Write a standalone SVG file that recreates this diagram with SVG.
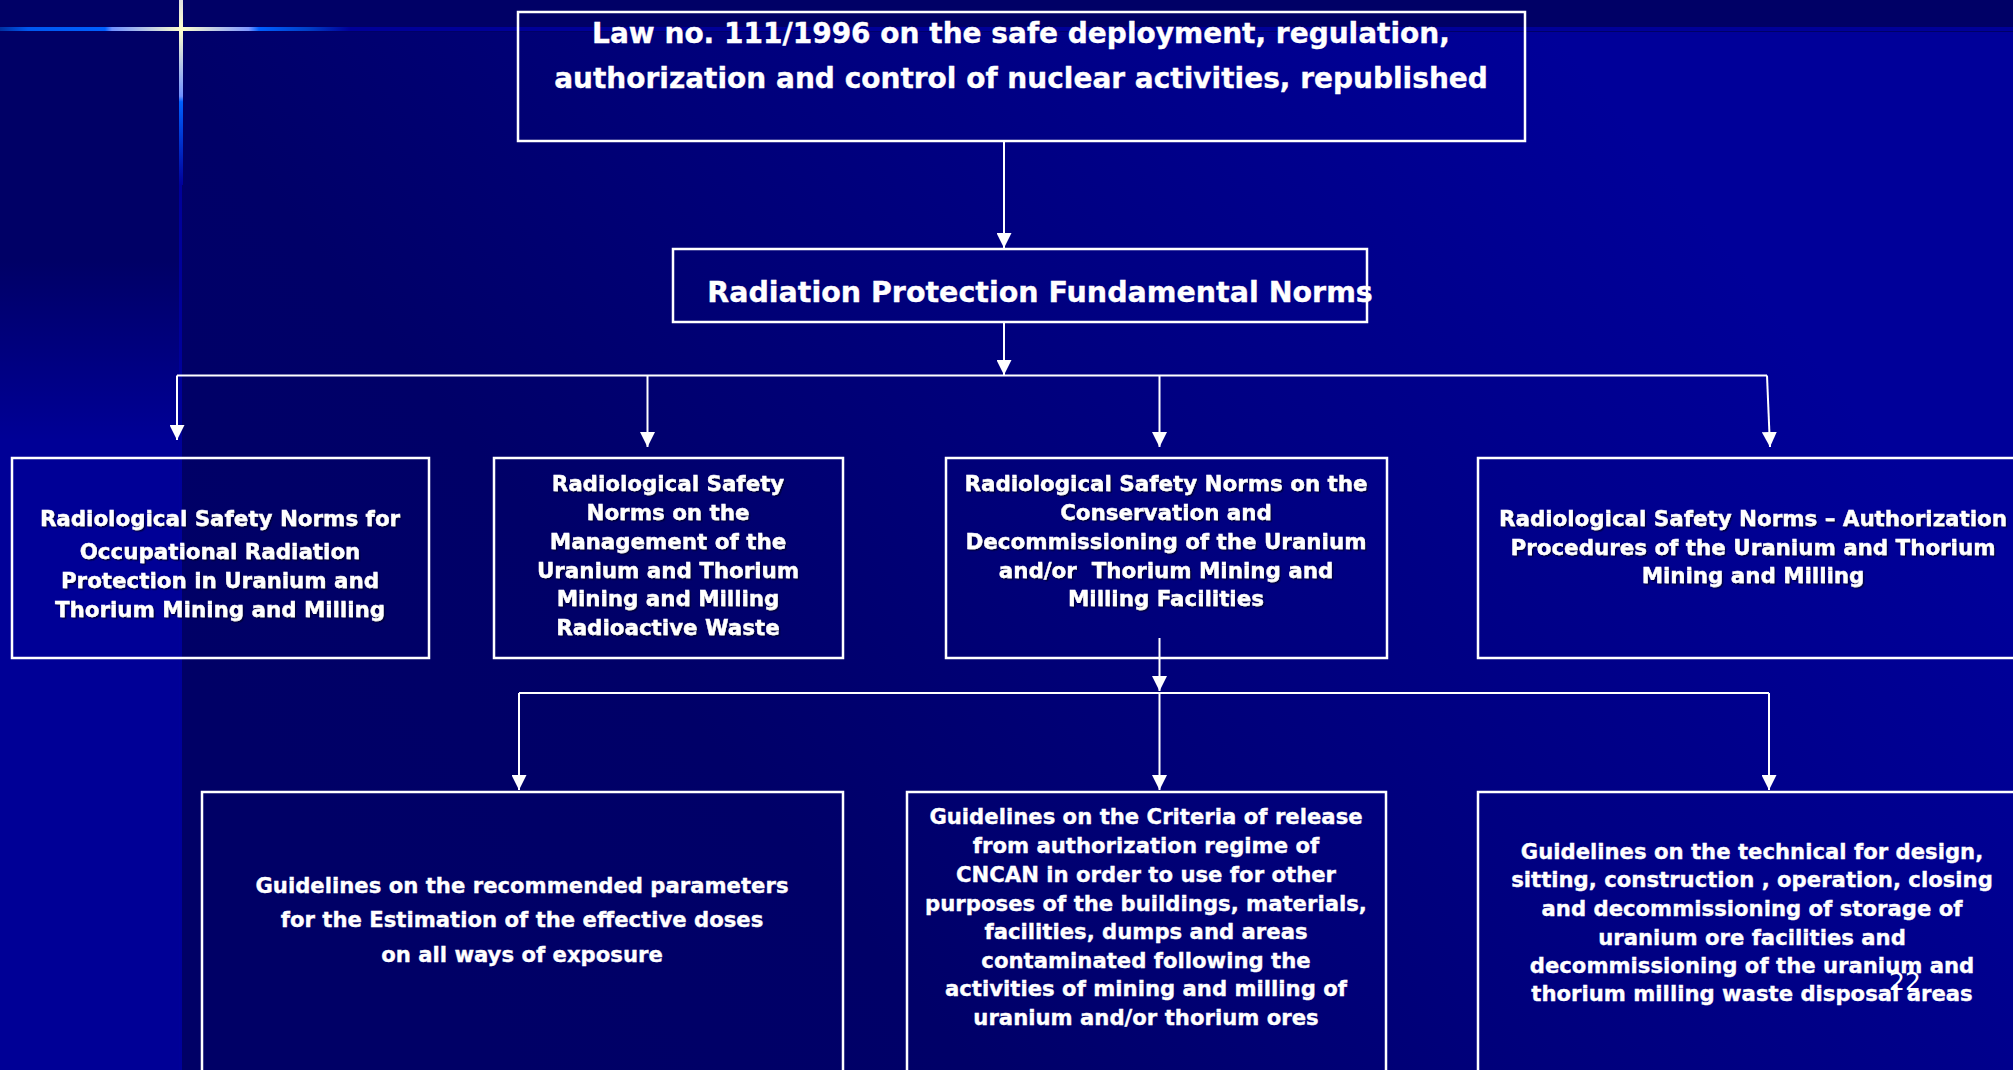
<svg xmlns="http://www.w3.org/2000/svg" width="2013" height="1070" viewBox="0 0 2013 1070">
<style>
.box{fill:none;stroke:#FFFFFF;stroke-width:2.5}
.t{font-family:"DejaVu Sans","Verdana","Noto Sans",sans-serif;font-weight:bold;fill:#FFFFFF;stroke:#FFFFFF;stroke-width:0.35;text-anchor:middle}
.t1{font-size:28px}
.t2{font-size:28.5px}
.t3{font-size:21.4px;filter:url(#sh)}
.t4{font-size:21.2px}
.c{fill:none;stroke:#FFFFFF;stroke-width:2}
.pg{font-family:"DejaVu Sans",sans-serif;font-size:25px;fill:#FFFFFF}
</style>
<defs>
<linearGradient id="bg" gradientUnits="userSpaceOnUse" x1="500" y1="1070" x2="1650" y2="150">
<stop offset="0" stop-color="#000066"/>
<stop offset="0.25" stop-color="#000068"/>
<stop offset="1" stop-color="#000099"/>
</linearGradient>
<linearGradient id="lb" gradientUnits="userSpaceOnUse" x1="0" y1="260" x2="0" y2="440">
<stop offset="0" stop-color="#000066"/>
<stop offset="1" stop-color="#000096"/>
</linearGradient>
<linearGradient id="hg" gradientUnits="userSpaceOnUse" x1="0" y1="0" x2="350" y2="0">
<stop offset="0" stop-color="#0030A0"/>
<stop offset="0.08" stop-color="#0058F0"/>
<stop offset="0.3" stop-color="#0060FF"/>
<stop offset="0.32" stop-color="#7090FF"/>
<stop offset="0.52" stop-color="#FFFFCC"/>
<stop offset="0.71" stop-color="#8098FF"/>
<stop offset="0.74" stop-color="#0060FF"/>
<stop offset="0.88" stop-color="#0040C8"/>
<stop offset="1" stop-color="#000099"/>
</linearGradient>
<linearGradient id="vg" gradientUnits="userSpaceOnUse" x1="0" y1="0" x2="0" y2="185">
<stop offset="0" stop-color="#E0E0E0"/>
<stop offset="0.16" stop-color="#FFFFCC"/>
<stop offset="0.52" stop-color="#7090FF"/>
<stop offset="0.55" stop-color="#0060FF"/>
<stop offset="1" stop-color="#000099"/>
</linearGradient>
<filter id="sh" x="-5%" y="-20%" width="110%" height="140%">
<feDropShadow dx="1.5" dy="1.5" stdDeviation="0.3" flood-color="#000033" flood-opacity="0.8"/>
</filter>
<marker id="ah" viewBox="0 0 15 15" refX="15" refY="7.5" markerWidth="15" markerHeight="15" markerUnits="userSpaceOnUse" orient="auto">
<path d="M0,0 L15,7.5 L0,15 Z" fill="#FFFFFF"/>
</marker>
</defs>

<g id="background">
<rect x="0" y="0" width="2013" height="1070" fill="url(#bg)"/>
<rect x="0" y="0" width="181" height="1070" fill="url(#lb)"/>
<rect x="0" y="0" width="2013" height="32" fill="#000066"/>
<rect x="0" y="27" width="2013" height="4" fill="#000099"/>
<rect x="0" y="27" width="350" height="4" fill="url(#hg)"/>
<rect x="179" y="0" width="4" height="185" fill="url(#vg)"/>
<rect x="179" y="185" width="3" height="885" fill="#000099"/>
</g>

<g id="connectors">
<line class="c" x1="1004" y1="141" x2="1004" y2="248" marker-end="url(#ah)"/>
<line class="c" x1="1004" y1="322" x2="1004" y2="375" marker-end="url(#ah)"/>
<polyline class="c" points="177,375.5 1767,375.5"/>
<line class="c" x1="177" y1="375.5" x2="177" y2="440" marker-end="url(#ah)"/>
<line class="c" x1="647.5" y1="375.5" x2="647.5" y2="447" marker-end="url(#ah)"/>
<line class="c" x1="1159.5" y1="375.5" x2="1159.5" y2="447" marker-end="url(#ah)"/>
<line class="c" x1="1767" y1="375.5" x2="1770" y2="447" marker-end="url(#ah)"/>
<line class="c" x1="1159.5" y1="638" x2="1159.5" y2="691" marker-end="url(#ah)"/>
<polyline class="c" points="519,693 1769,693"/>
<line class="c" x1="519" y1="693" x2="519" y2="790" marker-end="url(#ah)"/>
<line class="c" x1="1159.5" y1="693" x2="1159.5" y2="790" marker-end="url(#ah)"/>
<line class="c" x1="1769" y1="693" x2="1769" y2="790" marker-end="url(#ah)"/>
</g>

<g id="law">
<rect class="box" x="518" y="12" width="1007" height="129"/>
<text class="t t1"><tspan x="1021" y="43">Law no. 111/1996 on the safe deployment, regulation,</tspan><tspan x="1021" y="88">authorization and control of nuclear activities, republished</tspan></text>
</g>

<g id="fundamental">
<rect class="box" x="673" y="249" width="694" height="73"/>
<text class="t t2" x="1040" y="302">Radiation Protection Fundamental Norms</text>
</g>

<g id="norm-occupational">
<rect class="box" x="12" y="458" width="417" height="200"/>
<text class="t t3"><tspan x="220" y="526">Radiological Safety Norms for</tspan><tspan x="220" y="559">Occupational Radiation</tspan><tspan x="220" y="588">Protection in Uranium and</tspan><tspan x="220" y="617">Thorium Mining and Milling</tspan></text>
</g>

<g id="norm-waste">
<rect class="box" x="494" y="458" width="349" height="200"/>
<text class="t t3"><tspan x="668" y="491">Radiological Safety</tspan><tspan x="668" y="520">Norms on the</tspan><tspan x="668" y="549">Management of the</tspan><tspan x="668" y="578">Uranium and Thorium</tspan><tspan x="668" y="606">Mining and Milling</tspan><tspan x="668" y="635">Radioactive Waste</tspan></text>
</g>

<g id="norm-decommissioning">
<rect class="box" x="946" y="458" width="441" height="200"/>
<text class="t t3"><tspan x="1166" y="491">Radiological Safety Norms on the</tspan><tspan x="1166" y="520">Conservation and</tspan><tspan x="1166" y="549">Decommissioning of the Uranium</tspan><tspan x="1166" y="578" style="white-space:pre">and/or  Thorium Mining and</tspan><tspan x="1166" y="606">Milling Facilities</tspan></text>
</g>

<g id="norm-authorization">
<rect class="box" x="1478" y="458" width="560" height="200"/>
<text class="t t3"><tspan x="1753" y="526">Radiological Safety Norms – Authorization</tspan><tspan x="1753" y="555">Procedures of the Uranium and Thorium</tspan><tspan x="1753" y="583">Mining and Milling</tspan></text>
</g>

<g id="guide-doses">
<rect class="box" x="202" y="792" width="641" height="300"/>
<text class="t t4"><tspan x="522" y="893">Guidelines on the recommended parameters</tspan><tspan x="522" y="927">for the Estimation of the effective doses</tspan><tspan x="522" y="962">on all ways of exposure</tspan></text>
</g>

<g id="guide-release">
<rect class="box" x="907" y="792" width="479" height="300"/>
<text class="t t4"><tspan x="1146" y="824">Guidelines on the Criteria of release</tspan><tspan x="1146" y="853">from authorization regime of</tspan><tspan x="1146" y="882">CNCAN in order to use for other</tspan><tspan x="1146" y="911">purposes of the buildings, materials,</tspan><tspan x="1146" y="939">facilities, dumps and areas</tspan><tspan x="1146" y="968">contaminated following the</tspan><tspan x="1146" y="996">activities of mining and milling of</tspan><tspan x="1146" y="1025">uranium and/or thorium ores</tspan></text>
</g>

<g id="guide-storage">
<rect class="box" x="1478" y="792" width="560" height="300"/>
<text class="t t4"><tspan x="1752" y="859">Guidelines on the technical for design,</tspan><tspan x="1752" y="887">sitting, construction , operation, closing</tspan><tspan x="1752" y="916">and decommissioning of storage of</tspan><tspan x="1752" y="945">uranium ore facilities and</tspan><tspan x="1752" y="973">decommissioning of the uranium and</tspan><tspan x="1752" y="1001">thorium milling waste disposal areas</tspan></text>
</g>

<text class="pg" x="1889" y="990">22</text>
</svg>
